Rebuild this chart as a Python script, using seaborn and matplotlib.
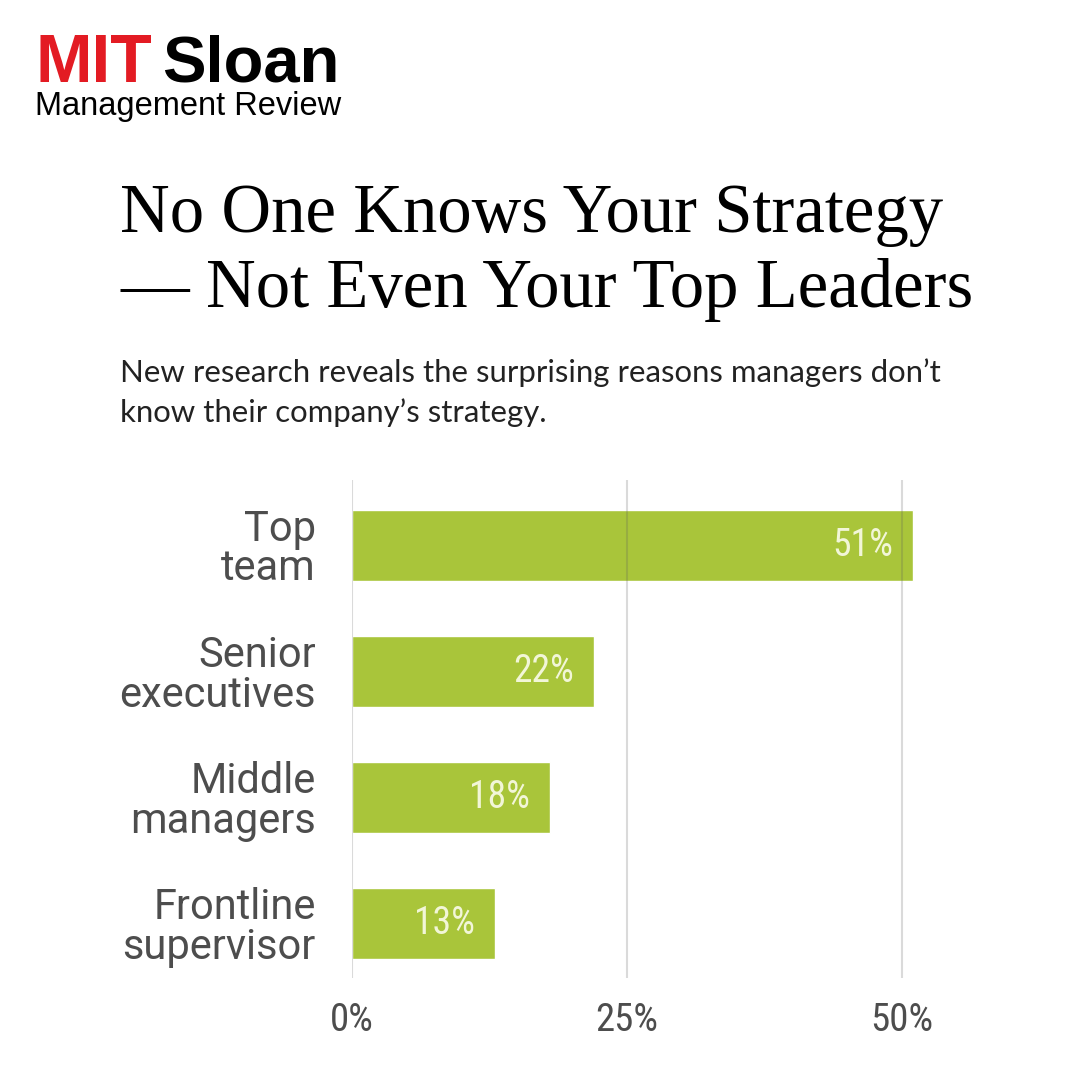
import matplotlib
matplotlib.use("Agg")
import matplotlib.pyplot as plt
from matplotlib import font_manager
import seaborn as sns

# Données
categories = ["Top\nteam", "Senior\nexecutives", "Middle\nmanagers", "Frontline\nsupervisor"]
values = [51, 22, 18, 13]
xticks = [0, 25, 50]
xtick_labels = ["0%", "25%", "50%"]

sns.set_style("white")

# Choix d'une police étroite si elle est installée
installed = {f.name for f in font_manager.fontManager.ttflist}
narrow = "Roboto"
for name in ["Roboto Condensed", "Liberation Sans Narrow", "DejaVu Sans Condensed",
             "Noto Sans Condensed", "Open Sans Condensed"]:
    if name in installed:
        narrow = name
        break
plt.rcParams["font.family"] = [narrow, "DejaVu Sans"]

BAR = "#a9c53a"
GRAY = "#4d4d4d"

fig = plt.figure(figsize=(10.8, 10.8), dpi=100)
fig.patch.set_facecolor("white")

# En-tête : logo
fig.text(35 / 1080, 1 - 82 / 1080, "MIT", color="#e31b23", fontsize=49,
         fontweight="bold", family="Liberation Sans", va="baseline")
fig.text(162 / 1080, 1 - 82 / 1080, "Sloan", color="black", fontsize=47,
         fontweight="bold", family="Liberation Sans", va="baseline")
fig.text(35 / 1080, 1 - 115 / 1080, "Management Review", color="black",
         fontsize=23.5, family="Liberation Sans", va="baseline")

# Titre et sous-titre
fig.text(120 / 1080, 1 - 232 / 1080, "No One Knows Your Strategy",
         fontsize=49.5, family="Liberation Serif", color="black", va="baseline")
fig.text(120 / 1080, 1 - 307 / 1080, "\u2014 Not Even Your Top Leaders",
         fontsize=49.5, family="Liberation Serif", color="black", va="baseline")
fig.text(120 / 1080, 1 - 382 / 1080,
         "New research reveals the surprising reasons managers don\u2019t",
         fontsize=22.4, family="Lato", color="#222222", va="baseline")
fig.text(120 / 1080, 1 - 422 / 1080, "know their company\u2019s strategy.",
         fontsize=22.4, family="Lato", color="#222222", va="baseline")

# Graphique en barres
ax = fig.add_axes([352 / 1080, 1 - 978 / 1080, 605 / 1080, 498 / 1080])
sns.barplot(x=values, y=categories, orient="h", color=BAR, saturation=1,
            width=0.56, ax=ax)
ax.set_xlim(0, 55)
ax.set_ylim(3.43, -0.52)

for i, v in enumerate(values):
    ax.annotate(f"{v}%", xy=(v, i), xytext=(-20, 0), textcoords="offset pixels",
                ha="right", va="center", fontsize=27, color="#f2f6d8")

ax.set_xticks(xticks)
ax.set_xticklabels(xtick_labels)
ax.set_axisbelow(False)
ax.xaxis.grid(True, color="#5a5a5a", alpha=0.22, linewidth=1.5)
ax.yaxis.grid(False)
for s in ax.spines.values():
    s.set_visible(False)
ax.tick_params(axis="y", length=0, pad=26, labelsize=30, labelcolor=GRAY)
ax.tick_params(axis="x", length=0, pad=17, labelsize=28, labelcolor=GRAY)
for lab in ax.get_yticklabels():
    lab.set_family(["Roboto", "DejaVu Sans"])
    lab.set_linespacing(0.95)
ax.set_xlabel("")
ax.set_ylabel("")

fig.savefig("out.png", dpi=100, facecolor="white")
